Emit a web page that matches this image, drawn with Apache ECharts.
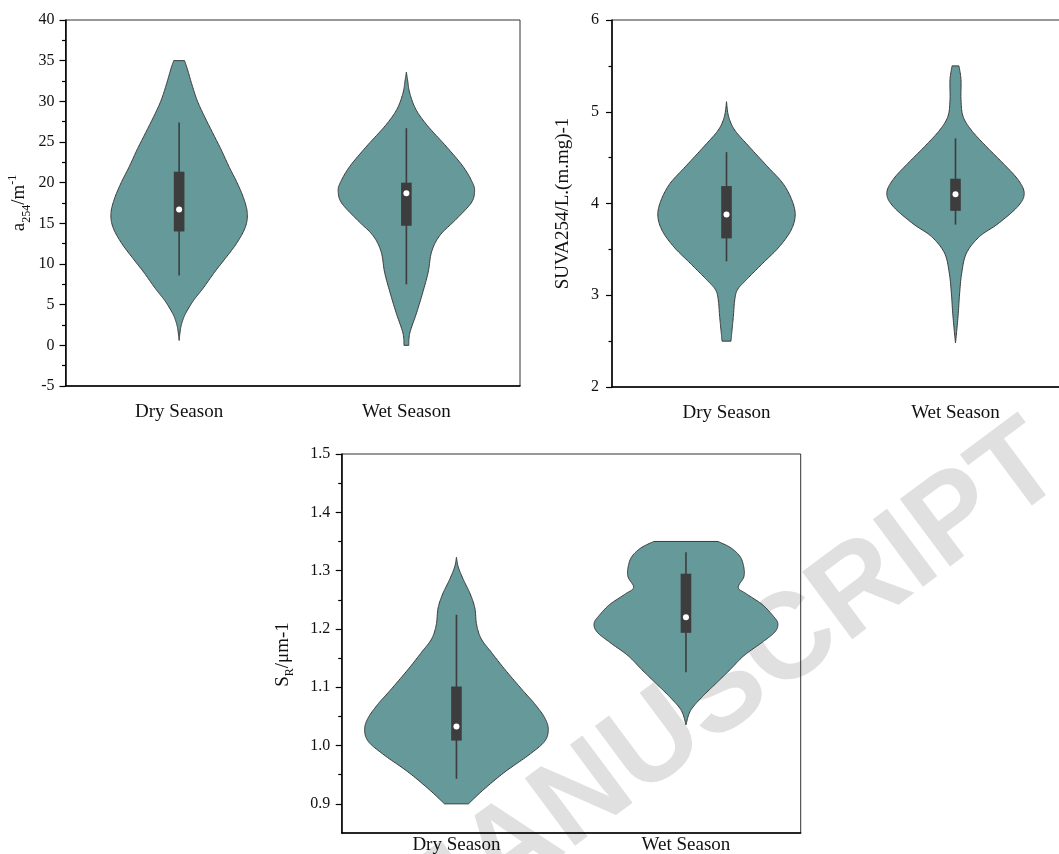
<!DOCTYPE html>
<html><head><meta charset="utf-8">
<script src="https://cdn.jsdelivr.net/npm/echarts@6/dist/echarts.min.js"></script>
<style>html,body{margin:0;padding:0;background:#fff}#c{width:1059px;height:854px}</style>
</head><body><div id="c"></div>
<script>
// ---------------- data ----------------
const categories = ['Dry Season', 'Wet Season'];

// a254 (m^-1)
const a254Ticks = [-5, 0, 5, 10, 15, 20, 25, 30, 35, 40];
// [lower whisker, Q1, median, Q3, upper whisker]
const a254DryBox = [8.6, 14.0, 16.7, 21.35, 27.4];
const a254WetBox = [7.5, 14.7, 18.7, 20.0, 26.7];
// [value, relative density]
const a254DryDensity = [[35.0,0.08],[34.0,0.12],[32.0,0.19],[30.0,0.27],[28.0,0.38],[26.0,0.50],[24.0,0.62],[22.0,0.73],[20.0,0.85],[18.0,0.95],[16.2,1.0],[14.5,0.97],[12.5,0.84],[10.5,0.66],[9.0,0.52],[7.0,0.35],[5.5,0.21],[4.0,0.10],[3.0,0.05],[2.0,0.02],[0.6,0]];
const a254WetDensity = [[33.6,0],[32.5,0.02],[31.0,0.05],[29.0,0.14],[27.0,0.31],[24.5,0.58],[22.0,0.83],[20.0,0.97],[18.9,1.0],[17.5,0.95],[15.5,0.73],[13.5,0.49],[11.5,0.37],[9.0,0.32],[6.5,0.24],[4.0,0.15],[1.5,0.05],[0,0.035]];

// SUVA254 (L/(m.mg))
const suvaTicks = [2, 3, 4, 5, 6];
const suvaDryBox = [3.37, 3.62, 3.88, 4.19, 4.56];
const suvaWetBox = [3.77, 3.92, 4.10, 4.27, 4.71];
const suvaDryDensity = [[5.11,0],[4.95,0.03],[4.80,0.12],[4.62,0.33],[4.40,0.60],[4.22,0.82],[4.04,0.95],[3.875,1.0],[3.71,0.94],[3.53,0.77],[3.35,0.53],[3.17,0.29],[3.06,0.16],[2.95,0.12],[2.77,0.10],[2.62,0.08],[2.50,0.065]];
const suvaWetDensity = [[5.50,0.05],[5.35,0.08],[5.13,0.08],[4.95,0.11],[4.80,0.23],[4.62,0.45],[4.44,0.69],[4.26,0.91],[4.11,1.0],[3.97,0.91],[3.78,0.62],[3.64,0.35],[3.46,0.16],[3.24,0.09],[3.02,0.06],[2.80,0.04],[2.59,0.015],[2.48,0]];

// SR (um-1)
const srTicks = [0.9, 1.0, 1.1, 1.2, 1.3, 1.4, 1.5];
const srMinorTicks = [0.95, 1.05, 1.15, 1.25, 1.35, 1.45];
const srAxisMin = 0.85;
const srDryBox = [0.943, 1.0085, 1.0326, 1.1012, 1.2243];
const srWetBox = [1.1258, 1.1933, 1.2202, 1.2947, 1.3317];
const srDryDensity = [[1.323,0],[1.306,0.02],[1.283,0.08],[1.260,0.15],[1.236,0.20],[1.207,0.22],[1.183,0.27],[1.160,0.38],[1.130,0.53],[1.095,0.72],[1.072,0.85],[1.048,0.96],[1.028,1.0],[1.007,0.96],[0.984,0.79],[0.955,0.53],[0.925,0.30],[0.900,0.13]];
const srWetDensity = [[1.350,0.35],[1.339,0.49],[1.324,0.59],[1.306,0.63],[1.289,0.63],[1.271,0.57],[1.260,0.66],[1.242,0.83],[1.224,0.94],[1.210,1.0],[1.195,0.97],[1.177,0.83],[1.154,0.63],[1.130,0.48],[1.107,0.33],[1.084,0.18],[1.060,0.05],[1.0355,0]];

// ---------------- rendering ----------------
const SERIF = '"Liberation Serif", "Times New Roman", serif';
const FILL = '#669999', EDGE = '#3a3a3a', BOX = '#3d3d3d';

function catmull(p) {
  const out = [], n = p.length;
  for (let i = 0; i < n - 1; i++) {
    const p0 = p[Math.max(i - 1, 0)], p1 = p[i], p2 = p[i + 1], p3 = p[Math.min(i + 2, n - 1)];
    for (let s = 0; s < 12; s++) {
      const t = s / 12, t2 = t * t, t3 = t2 * t;
      const f = (a, b, c, d) => 0.5 * (2 * b + (-a + c) * t + (2 * a - 5 * b + 4 * c - d) * t2 + (-a + 3 * b - 3 * c + d) * t3);
      out.push([f(p0[0], p1[0], p2[0], p3[0]), Math.max(0, f(p0[1], p1[1], p2[1], p3[1]))]);
    }
  }
  out.push(p[n - 1]);
  return out;
}

function violinRenderer(densities, boxes, widthFrac) {
  return function (params, api) {
    const i = params.dataIndex;
    const cat = api.value(0);
    const dens = densities[i], box = boxes[i];
    const band = api.size([1, 0])[0];
    const maxHalf = band * widthFrac / 2;
    const cx = api.coord([cat, box[2]])[0];
    const side = catmull(dens.map(([v, d]) => [api.coord([cat, v])[1], d * maxHalf]));
    const left = side.map(([y, h]) => [cx - h, y]);
    const right = side.slice().reverse().map(([y, h]) => [cx + h, y]);
    const lo = api.coord([cat, box[0]])[1], q1 = api.coord([cat, box[1]])[1],
          med = api.coord([cat, box[2]])[1], q3 = api.coord([cat, box[3]])[1], hi = api.coord([cat, box[4]])[1];
    return {
      type: 'group',
      children: [
        { type: 'polygon', shape: { points: left.concat(right) }, style: { fill: FILL, stroke: EDGE, lineWidth: 1 } },
        { type: 'line', shape: { x1: cx, y1: hi, x2: cx, y2: lo }, style: { stroke: BOX, lineWidth: 1.6 } },
        { type: 'rect', shape: { x: cx - 5.3, y: q3, width: 10.6, height: q1 - q3 }, style: { fill: BOX } },
        { type: 'circle', shape: { cx: cx, cy: med, r: 3 }, style: { fill: '#ffffff' } }
      ]
    };
  };
}

const grids = [
  { left: 65.5, top: 20, width: 454.5, height: 366 },
  { left: 612, top: 20, width: 458, height: 367 },
  { left: 341.7, top: 454, width: 459, height: 379 }
].map(g => Object.assign(g, { show: true, borderColor: '#333', borderWidth: 1, outerBoundsMode: 'none', containLabel: false }));

function xAxisFor(gi, margin) {
  return {
    type: 'category', gridIndex: gi, data: categories, boundaryGap: true,
    axisLine: { onZero: false, lineStyle: { color: '#000', width: 1.5 } },
    axisTick: { alignWithLabel: true, length: 6, lineStyle: { color: '#000', width: 1.2 } },
    axisLabel: { fontFamily: SERIF, fontSize: 19, color: '#111', margin: margin },
    splitLine: { show: false }
  };
}

const nameStyleBase = { fontFamily: SERIF, fontSize: 19, color: '#111' };

const yAxes = [
  {
    type: 'value', gridIndex: 0, min: a254Ticks[0], max: a254Ticks[a254Ticks.length - 1], interval: a254Ticks[1] - a254Ticks[0],
    name: '{a|a}{s|254}{a|/m}{p|-1}', nameLocation: 'middle', nameGap: 33,
    nameTextStyle: Object.assign({}, nameStyleBase, { rich: {
      a: { fontFamily: SERIF, fontSize: 19, color: '#111', lineHeight: 26 },
      s: { fontFamily: SERIF, fontSize: 12, color: '#111', verticalAlign: 'bottom', lineHeight: 14 },
      p: { fontFamily: SERIF, fontSize: 12, color: '#111', verticalAlign: 'top', lineHeight: 14 } } }),
    axisLine: { show: true, onZero: false, lineStyle: { color: '#000', width: 1.5 } },
    axisTick: { show: true, length: 6, lineStyle: { color: '#000', width: 1.2 } },
    minorTick: { show: true, splitNumber: 2, length: 3.5, lineStyle: { color: '#000', width: 1.2 } },
    axisLabel: { fontFamily: SERIF, fontSize: 16, color: '#111', margin: 11 },
    splitLine: { show: false }
  },
  {
    type: 'value', gridIndex: 1, min: suvaTicks[0], max: suvaTicks[suvaTicks.length - 1], interval: suvaTicks[1] - suvaTicks[0],
    name: 'SUVA254/L.(m.mg)-1', nameLocation: 'middle', nameGap: 39,
    nameTextStyle: nameStyleBase,
    axisLine: { show: true, onZero: false, lineStyle: { color: '#000', width: 1.5 } },
    axisTick: { show: true, length: 6, lineStyle: { color: '#000', width: 1.2 } },
    minorTick: { show: true, splitNumber: 2, length: 3.5, lineStyle: { color: '#000', width: 1.2 } },
    axisLabel: { fontFamily: SERIF, fontSize: 16, color: '#111', margin: 13 },
    splitLine: { show: false }
  },
  {
    type: 'value', gridIndex: 2, min: srAxisMin, max: srTicks[srTicks.length - 1],
    name: '{a|S}{s|R}{a|/μm-1}', nameLocation: 'middle', nameGap: 46,
    nameTextStyle: Object.assign({}, nameStyleBase, { padding: [0, 22, 0, 0], rich: {
      a: { fontFamily: SERIF, fontSize: 19, color: '#111', lineHeight: 26 },
      s: { fontFamily: SERIF, fontSize: 12, color: '#111', verticalAlign: 'bottom', lineHeight: 14 } } }),
    axisLine: { show: true, onZero: false, lineStyle: { color: '#000', width: 1.5 } },
    axisTick: { show: true, length: 6, customValues: srTicks, lineStyle: { color: '#000', width: 1.2 } },
    axisLabel: { fontFamily: SERIF, fontSize: 16, color: '#111', margin: 11.5, customValues: srTicks, formatter: v => v.toFixed(1) },
    splitLine: { show: false }
  },
  {
    type: 'value', gridIndex: 2, min: srAxisMin, max: srTicks[srTicks.length - 1], position: 'left',
    axisLine: { show: false },
    axisTick: { show: true, length: 3.5, customValues: srMinorTicks, lineStyle: { color: '#000', width: 1.2 } },
    axisLabel: { show: false },
    splitLine: { show: false }
  }
];

const panels = [
  { densities: [a254DryDensity, a254WetDensity], boxes: [a254DryBox, a254WetBox], widthFrac: 0.6 },
  { densities: [suvaDryDensity, suvaWetDensity], boxes: [suvaDryBox, suvaWetBox], widthFrac: 0.6 },
  { densities: [srDryDensity, srWetDensity], boxes: [srDryBox, srWetBox], widthFrac: 0.8 }
];

const series = panels.map((p, k) => ({
  type: 'custom', xAxisIndex: k, yAxisIndex: k, clip: false,
  renderItem: violinRenderer(p.densities, p.boxes, p.widthFrac),
  encode: { x: 0, y: 1 },
  data: categories.map((c, i) => [i, p.boxes[i][2]]),
  z: 5
}));

const chart = echarts.init(document.getElementById('c'), null, { renderer: 'canvas' });
chart.setOption({
  animation: false,
  backgroundColor: '#ffffff',
  grid: grids,
  xAxis: [xAxisFor(0, 17), xAxisFor(1, 17), xAxisFor(2, 3)],
  yAxis: yAxes,
  graphic: [{
    type: 'text', x: 1085, y: 500, rotation: 0.64, z: -10, silent: true,
    style: { text: 'ACCEPTED MANUSCRIPT', font: 'bold 122px "Liberation Sans", Arial, sans-serif', fill: '#e0e0e0', align: 'right', verticalAlign: 'bottom' }
  }],
  series: series
});
</script></body></html>
